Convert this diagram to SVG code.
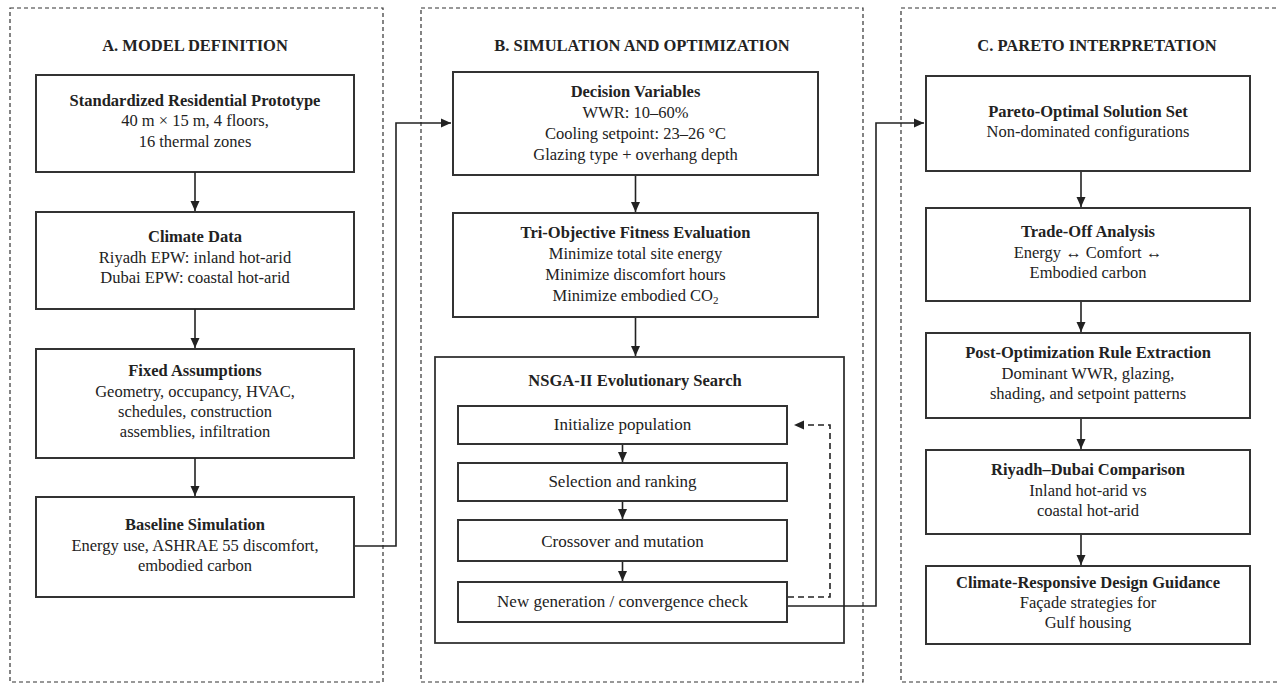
<svg xmlns="http://www.w3.org/2000/svg" width="1277" height="684" viewBox="0 0 1277 684">
<style>
.panel{fill:none;stroke:#333;stroke-width:1.2;stroke-dasharray:4 3}
.box{fill:#fff;stroke:#333;stroke-width:2}
text{font-family:"Liberation Serif","Times New Roman",serif;font-size:16.5px;fill:#222;text-anchor:middle}
.h{font-weight:bold;font-size:16.5px}
.b{font-weight:bold}
.s{font-size:17px}
.c{fill:none;stroke:#222;stroke-width:1.6}
.d{fill:none;stroke:#222;stroke-width:1.6;stroke-dasharray:6 4}
</style>
<defs>
<marker id="ah" viewBox="0 0 10 10" refX="10" refY="5" markerWidth="10" markerHeight="10" markerUnits="userSpaceOnUse" orient="auto">
<path d="M0,0.5 L10,5 L0,9.5 Z" fill="#222"/>
</marker>
</defs>
<rect x="0" y="0" width="1277" height="684" fill="#fff"/>
<g id="panelA">
<rect class="panel" x="10" y="8" width="373" height="674"/>
<text class="h" x="195" y="51">A. MODEL DEFINITION</text>
</g>
<g id="panelB">
<rect class="panel" x="421" y="8" width="442" height="674"/>
<text class="h" x="642" y="51">B. SIMULATION AND OPTIMIZATION</text>
</g>
<g id="panelC">
<rect class="panel" x="901" y="8" width="390" height="674"/>
<text class="h" x="1097" y="51">C. PARETO INTERPRETATION</text>
</g>
<g id="a1">
<rect class="box" x="36" y="75" width="318" height="97"/>
<text class="b" x="195" y="106">Standardized Residential Prototype</text>
<text x="195" y="126">40 m × 15 m, 4 floors,</text>
<text x="195" y="147">16 thermal zones</text>
</g>
<g id="a2">
<rect class="box" x="36" y="212" width="318" height="97"/>
<text class="b" x="195" y="242">Climate Data</text>
<text x="195" y="263">Riyadh EPW: inland hot-arid</text>
<text x="195" y="283">Dubai EPW: coastal hot-arid</text>
</g>
<g id="a3">
<rect class="box" x="36" y="349" width="318" height="109"/>
<text class="b" x="195" y="376">Fixed Assumptions</text>
<text x="195" y="397">Geometry, occupancy, HVAC,</text>
<text x="195" y="417">schedules, construction</text>
<text x="195" y="437">assemblies, infiltration</text>
</g>
<g id="a4">
<rect class="box" x="36" y="497" width="318" height="100"/>
<text class="b" x="195" y="530">Baseline Simulation</text>
<text x="195" y="551">Energy use, ASHRAE 55 discomfort,</text>
<text x="195" y="571">embodied carbon</text>
</g>
<g id="b1">
<rect class="box" x="453" y="72" width="365" height="103"/>
<text class="b" x="635.5" y="97">Decision Variables</text>
<text x="635.5" y="118">WWR: 10–60%</text>
<text x="635.5" y="139">Cooling setpoint: 23–26 °C</text>
<text x="635.5" y="160">Glazing type + overhang depth</text>
</g>
<g id="b2">
<rect class="box" x="453" y="213" width="365" height="104"/>
<text class="b" x="635.5" y="238">Tri-Objective Fitness Evaluation</text>
<text x="635.5" y="259">Minimize total site energy</text>
<text x="635.5" y="280">Minimize discomfort hours</text>
<text x="635.5" y="301">Minimize embodied CO<tspan font-size="11" dy="3">2</tspan></text>
</g>
<g id="b3">
<rect class="box" x="435" y="357" width="409" height="286" style="stroke-width:1.8"/>
<text class="b" x="635" y="386">NSGA-II Evolutionary Search</text>
</g>
<g id="b3-init">
<rect class="box" x="458" y="406" width="329" height="38"/>
<text class="s" x="622.5" y="430">Initialize population</text>
</g>
<g id="b3-sel">
<rect class="box" x="458" y="463" width="329" height="38"/>
<text class="s" x="622.5" y="487">Selection and ranking</text>
</g>
<g id="b3-cross">
<rect class="box" x="458" y="520" width="329" height="41"/>
<text class="s" x="622.5" y="547">Crossover and mutation</text>
</g>
<g id="b3-new">
<rect class="box" x="458" y="582" width="329" height="40"/>
<text class="s" x="622.5" y="607">New generation / convergence check</text>
</g>
<g id="c1">
<rect class="box" x="926" y="76" width="324" height="95"/>
<text class="b" x="1088" y="117">Pareto-Optimal Solution Set</text>
<text x="1088" y="137">Non-dominated configurations</text>
</g>
<g id="c2">
<rect class="box" x="926" y="208" width="324" height="93"/>
<text class="b" x="1088" y="237">Trade-Off Analysis</text>
<text x="1088" y="258">Energy ↔ Comfort ↔</text>
<text x="1088" y="278">Embodied carbon</text>
</g>
<g id="c3">
<rect class="box" x="926" y="333" width="324" height="85"/>
<text class="b" x="1088" y="358">Post-Optimization Rule Extraction</text>
<text x="1088" y="379">Dominant WWR, glazing,</text>
<text x="1088" y="399">shading, and setpoint patterns</text>
</g>
<g id="c4">
<rect class="box" x="926" y="450" width="324" height="84"/>
<text class="b" x="1088" y="475">Riyadh–Dubai Comparison</text>
<text x="1088" y="496">Inland hot-arid vs</text>
<text x="1088" y="516">coastal hot-arid</text>
</g>
<g id="c5">
<rect class="box" x="926" y="566" width="324" height="78"/>
<text class="b" x="1088" y="588">Climate-Responsive Design Guidance</text>
<text x="1088" y="608">Façade strategies for</text>
<text x="1088" y="628">Gulf housing</text>
</g>
<g id="connectors">
<line class="c" x1="195" y1="172" x2="195" y2="211" marker-end="url(#ah)"/>
<line class="c" x1="195" y1="309" x2="195" y2="348" marker-end="url(#ah)"/>
<line class="c" x1="195" y1="458" x2="195" y2="496" marker-end="url(#ah)"/>
<path class="c" d="M355,546 H396 V123 H451" marker-end="url(#ah)"/>
<line class="c" x1="635.5" y1="176" x2="635.5" y2="212" marker-end="url(#ah)"/>
<line class="c" x1="635.5" y1="318" x2="635.5" y2="356" marker-end="url(#ah)"/>
<line class="c" x1="622.5" y1="445" x2="622.5" y2="462" marker-end="url(#ah)"/>
<line class="c" x1="622.5" y1="502" x2="622.5" y2="519" marker-end="url(#ah)"/>
<line class="c" x1="622.5" y1="562" x2="622.5" y2="581" marker-end="url(#ah)"/>
<path class="d" d="M788,597 H830 V425 H794" marker-end="url(#ah)"/>
<path class="c" d="M788,606 H876 V123 H924" marker-end="url(#ah)"/>
<line class="c" x1="1081" y1="172" x2="1081" y2="207" marker-end="url(#ah)"/>
<line class="c" x1="1081" y1="302" x2="1081" y2="332" marker-end="url(#ah)"/>
<line class="c" x1="1081" y1="419" x2="1081" y2="449" marker-end="url(#ah)"/>
<line class="c" x1="1081" y1="535" x2="1081" y2="565" marker-end="url(#ah)"/>
</g>
</svg>
